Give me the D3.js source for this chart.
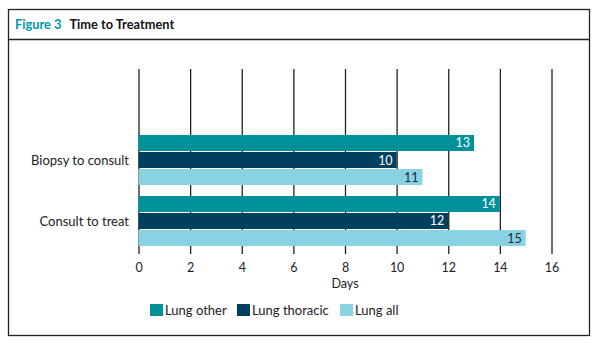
<!DOCTYPE html>
<html><head><meta charset="utf-8">
<script src="https://cdn.jsdelivr.net/npm/d3@7"></script>
<style>body{margin:0;background:#fff;}svg{display:block;font-family:Lato,"Open Sans",sans-serif;}</style>
</head><body>
<svg id="c" width="605" height="350"></svg>
<script>
const categories = ["Biopsy to consult", "Consult to treat"];
const seriesNames = ["Lung other", "Lung thoracic", "Lung all"];
const lungOther = [13, 14];
const lungThoracic = [10, 12];
const lungAll = [11, 15];
const tickValues = [0, 2, 4, 6, 8, 10, 12, 14, 16];
const colors = ["#00919b", "#00405f", "#88d2e4"];
const labelColors = ["#ffffff", "#ffffff", "#1a2a3a"];
const seriesValues = [lungOther, lungThoracic, lungAll];

const svg = d3.select("#c");
// frame
svg.append("rect").attr("x", 8.5).attr("y", 9.5).attr("width", 581).attr("height", 326)
  .attr("fill", "none").attr("stroke", "#222").attr("stroke-width", 1.3);
svg.append("line").attr("x1", 8.5).attr("x2", 589.5).attr("y1", 39.5).attr("y2", 39.5)
  .attr("stroke", "#222").attr("stroke-width", 1.3);
const title = svg.append("text").attr("x", 15).attr("y", 29).attr("font-size", 12.8).attr("font-weight", "bold");
title.append("tspan").attr("fill", "#0097a9").text("Figure 3");
title.append("tspan").attr("fill", "#111").attr("dx", 8).text("Time to Treatment");

const x = d3.scaleLinear().domain([0, 16]).range([138.5, 551.5]);
const y0 = d3.scaleBand().domain(categories).range([135, 246]).paddingInner(0.18);
const y1 = d3.scaleBand().domain(seriesNames).range([0, y0.bandwidth()]).paddingInner(0.06);

// gridlines + axis
const axisY = 254;
const axis = d3.axisBottom(x).tickValues(tickValues).tickSize(-(axisY - 69)).tickPadding(9);
const gAxis = svg.append("g").attr("transform", `translate(0,${axisY})`).call(axis);
gAxis.select(".domain").remove();
gAxis.selectAll(".tick line").attr("stroke", "#222").attr("stroke-width", 1.3);
gAxis.selectAll(".tick text").attr("font-size", 12.5).attr("fill", "#222").attr("font-family", "Lato, sans-serif");

svg.append("text").attr("x", x(8)).attr("y", 288).attr("text-anchor", "middle")
  .attr("font-size", 12.5).attr("fill", "#222").text("Days");

// category labels
svg.append("g").selectAll("text").data(categories).join("text")
  .attr("x", 129).attr("y", d => y0(d) + y0.bandwidth() / 2)
  .attr("dy", "0.35em").attr("text-anchor", "end").attr("font-size", 13).attr("fill", "#222").text(d => d);

// bars
const groups = svg.append("g").selectAll("g").data(categories).join("g")
  .attr("transform", d => `translate(0,${y0(d)})`);
groups.each(function(cat, ci) {
  const g = d3.select(this);
  seriesNames.forEach((s, si) => {
    const v = seriesValues[si][ci];
    g.append("rect").attr("x", x(0)).attr("y", y1(s)).attr("width", x(v) - x(0))
      .attr("height", y1.bandwidth()).attr("fill", colors[si]);
    g.append("text").attr("x", x(v) - 4).attr("y", y1(s) + y1.bandwidth() / 2).attr("dy", "0.36em")
      .attr("text-anchor", "end").attr("font-size", 12.5).attr("fill", labelColors[si]).text(v);
  });
});

// legend
const legendX = [150, 237, 340];
const leg = svg.append("g").selectAll("g").data(seriesNames).join("g")
  .attr("transform", (d, i) => `translate(${legendX[i]},304)`);
leg.append("rect").attr("width", 13).attr("height", 12).attr("fill", (d, i) => colors[i]);
leg.append("text").attr("x", 15).attr("y", 6).attr("dy", "0.36em").attr("font-size", 13).attr("fill", "#222").text(d => d);
</script>
</body></html>
